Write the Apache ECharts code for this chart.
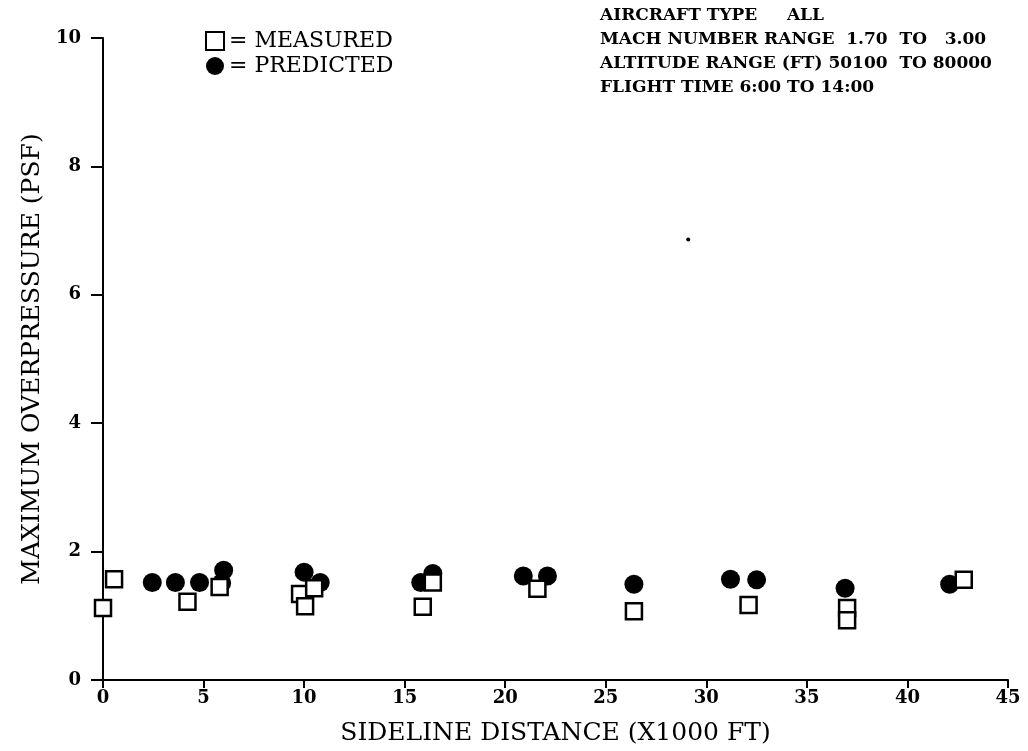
<!DOCTYPE html>
<html>
<head>
<meta charset="utf-8">
<script src="https://cdn.jsdelivr.net/npm/echarts@6/dist/echarts.min.js"></script>
<style>html,body{margin:0;padding:0;background:#fff;}#c{width:1028px;height:751px;}</style>
</head>
<body>
<div id="c"></div>
<script>
// Data
const xTicks = [0, 5, 10, 15, 20, 25, 30, 35, 40, 45];
const yTicks = [0, 2, 4, 6, 8, 10];
const measuredX = [0.0, 0.55, 4.2, 5.8, 9.8, 10.05, 10.5, 15.9, 16.4, 21.6, 26.4, 32.1, 37.0, 37.0, 42.8];
const measuredY = [1.12, 1.57, 1.22, 1.45, 1.34, 1.15, 1.43, 1.14, 1.52, 1.42, 1.07, 1.17, 1.12, 0.93, 1.56];
const predictedX = [2.45, 3.6, 4.8, 5.9, 6.0, 10.0, 10.8, 15.8, 16.4, 20.9, 22.1, 26.4, 31.2, 32.5, 36.9, 42.1];
const predictedY = [1.52, 1.52, 1.52, 1.51, 1.71, 1.68, 1.52, 1.52, 1.66, 1.62, 1.62, 1.49, 1.57, 1.56, 1.43, 1.49];
const strayX = [29.1];
const strayY = [6.86];
const infoLines = [
  'AIRCRAFT TYPE     ALL',
  'MACH NUMBER RANGE  1.70  TO   3.00',
  'ALTITUDE RANGE (FT) 50100  TO 80000',
  'FLIGHT TIME 6:00 TO 14:00'
];

const zip = (xs, ys) => xs.map((x, i) => [x, ys[i]]);
const serif = '"DejaVu Serif", "Liberation Serif", serif';

const chart = echarts.init(document.getElementById('c'), null, {renderer: 'canvas'});
chart.setOption({
  animation: false,
  backgroundColor: '#fff',
  grid: {left: 103, right: 20, top: 38, bottom: 70, containLabel: false},
  legend: {
    orient: 'vertical',
    left: 200,
    top: 25,
    itemGap: 3,
    itemWidth: 18,
    itemHeight: 18,
    formatter: '= {name}',
    textStyle: {fontFamily: serif, fontSize: 22, color: '#000'},
    data: [
      {name: 'MEASURED', icon: 'rect', itemStyle: {color: '#fff', borderColor: '#000', borderWidth: 2, opacity: 1}},
      {name: 'PREDICTED', icon: 'circle', itemStyle: {color: '#000', opacity: 1}}
    ]
  },
  xAxis: {
    type: 'value', min: 0, max: 45, interval: 5,
    name: 'SIDELINE DISTANCE (X1000 FT)', nameLocation: 'middle', nameGap: 41,
    nameTextStyle: {fontFamily: serif, fontSize: 25, color: '#000'},
    axisLine: {show: true, onZero: false, lineStyle: {color: '#000', width: 2}},
    axisTick: {show: true, length: 8, lineStyle: {color: '#000', width: 2}},
    axisLabel: {fontFamily: serif, fontWeight: 'bold', fontSize: 18, color: '#000', margin: 9,
      formatter: v => xTicks.includes(v) ? String(v) : ''},
    splitLine: {show: false}
  },
  yAxis: {
    type: 'value', min: 0, max: 10, interval: 2,
    name: 'MAXIMUM OVERPRESSURE (PSF)', nameLocation: 'middle', nameGap: 46,
    nameTextStyle: {fontFamily: serif, fontSize: 25, color: '#000'},
    axisLine: {show: true, onZero: false, lineStyle: {color: '#000', width: 2}},
    axisTick: {show: true, length: 12, lineStyle: {color: '#000', width: 2}},
    axisLabel: {fontFamily: serif, fontWeight: 'bold', fontSize: 18, color: '#000', margin: 22,
      formatter: v => yTicks.includes(v) ? String(v) : ''},
    splitLine: {show: false}
  },
  graphic: [{
    type: 'text', left: 600, top: 4,
    style: {
      text: infoLines.join('\n'),
      font: 'bold 17px ' + serif,
      lineHeight: 24,
      fill: '#000'
    }
  }],
  series: [
    {
      name: 'PREDICTED', type: 'scatter', symbol: 'circle', symbolSize: 19,
      itemStyle: {color: '#000', opacity: 1},
      data: zip(predictedX, predictedY), z: 2
    },
    {
      name: 'MEASURED', type: 'scatter', symbol: 'rect', symbolSize: 16,
      itemStyle: {color: '#fff', borderColor: '#000', borderWidth: 2.5, opacity: 1},
      data: zip(measuredX, measuredY), z: 3
    },
    {
      name: 'stray', type: 'scatter', symbol: 'circle', symbolSize: 4,
      itemStyle: {color: '#000', opacity: 1},
      data: zip(strayX, strayY), z: 1
    }
  ]
});
</script>
</body>
</html>
